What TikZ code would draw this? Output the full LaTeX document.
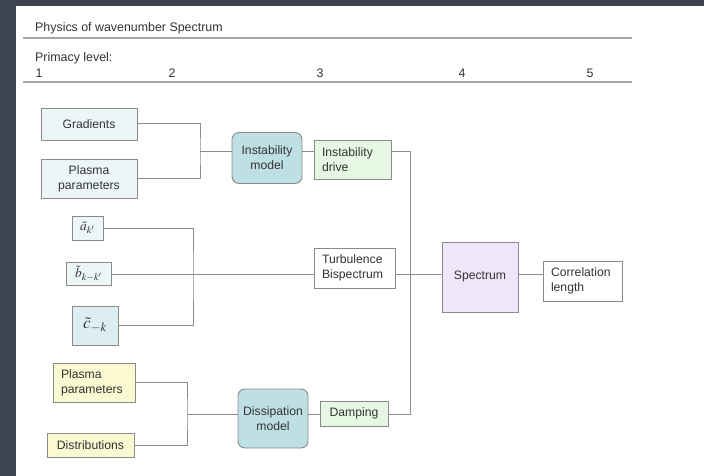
\documentclass[tikz,border=0pt]{standalone}
\usepackage{amsmath}
\usepackage{mathptmx}
\usepackage{fontspec}
\setmainfont{Liberation Sans}
\usetikzlibrary{positioning}

\definecolor{slate}{HTML}{3E4350}
\definecolor{txt}{HTML}{333333}
\definecolor{boxline}{HTML}{8A8A8A}
\definecolor{wireline}{HTML}{8C8C8C}
\definecolor{ruleline}{HTML}{A4A4A4}
\definecolor{cyanlite}{HTML}{EDF6F7}
\definecolor{cyanmid}{HTML}{DCEEF2}
\definecolor{modelfill}{HTML}{BEDFE4}
\definecolor{greenlite}{HTML}{E6F8E4}
\definecolor{lavender}{HTML}{F0E6FB}
\definecolor{yellowlite}{HTML}{FBF9D2}

\begin{document}
\begin{tikzpicture}[x=1pt,y=-1pt,
	head/.style={text=txt, inner sep=0pt, font=\fontsize{12.4}{14}\selectfont},
	box/.style={draw=boxline, line width=0.9pt, inner sep=0pt, text=txt, align=center, font=\fontsize{12.2}{15}\selectfont},
	lbox/.style={box, align=left, inner xsep=8pt},
	model/.style={box, rounded corners=7pt, fill=modelfill},
	wire/.style={draw=wireline, line width=1pt},
	rule/.style={draw=ruleline, line width=1.8pt}]
	\fill[slate] (0,0) rectangle (704,476);
	\fill[white] (16,6) rectangle (704,476);
	% header
	\node[head, anchor=west] (title) at (35,28) {Physics of wavenumber Spectrum};
	\draw[rule] (23,38) -- (632,38);
	\node[head, anchor=west] (prim) at (35,58) {Primacy level:};
	\foreach \x/\n in {39/1,172/2,320/3,462/4,590/5}
		\node[head] (lv\n) at (\x,73) {\n};
	\draw[rule] (23,82) -- (632,82);
	% level 1
	\node[box, fill=cyanlite, minimum width=96, minimum height=32] (grad) at (89,124) {Gradients};
	\node[box, fill=cyanlite, minimum width=96, minimum height=39] (plasA) at (89,178.5) {Plasma\\parameters};
	\node[box, fill=cyanlite, minimum width=31, minimum height=24, font=\fontsize{13.5}{15}\selectfont] (abox) at (87.5,228) {$\tilde{a}_{k'}$};
	\node[box, fill=cyanlite, minimum width=45, minimum height=23, font=\fontsize{13.5}{15}\selectfont] (bbox) at (88.5,273.5) {$\tilde{b}_{k-k'}$};
	\node[box, fill=cyanmid, minimum width=46, minimum height=39, font=\fontsize{17}{19}\selectfont] (cbox) at (95,325.5) {$\tilde{c}_{-k}$};
	\node[lbox, fill=yellowlite, text width=66, minimum height=39] (plasB) at (94,382.5) {Plasma\\parameters};
	\node[box, fill=yellowlite, minimum width=87, minimum height=24] (distr) at (90.5,445) {Distributions};
	% level 2 and 3
	\node[model, minimum width=70, minimum height=51] (instm) at (267,158) {Instability\\model};
	\node[lbox, fill=greenlite, text width=61, minimum height=39] (drive) at (352.5,159.5) {Instability\\drive};
	\node[lbox, fill=white, text width=65, minimum height=40] (turb) at (354.5,268) {Turbulence\\Bispectrum};
	\node[model, minimum width=70, minimum height=59] (dism) at (273,418.5) {Dissipation\\model};
	\node[box, fill=greenlite, minimum width=68, minimum height=25] (damp) at (354,413.5) {Damping};
	% level 4 and 5
	\node[box, fill=lavender, minimum width=76, minimum height=70] (spec) at (480,277) {Spectrum};
	\node[lbox, fill=white, text width=63, minimum height=40] (corr) at (582.5,281) {Correlation\\length};
	% connectors
	\coordinate (j1) at (200,152);
	\coordinate (j2) at (193,274);
	\coordinate (j3) at (187,414);
	\coordinate (t1) at (410,152);
	\coordinate (t2) at (410,414);
	\draw[wire] (grad.east) -| (j1) |- (plasA.east);
	\draw[wire] (j1) -- (j1 -| instm.west);
	\draw[wire] (instm.east |- j1) -- (drive.west |- j1);
	\draw[wire] (drive.east |- t1) -- (t1) -- (t2) -- (damp.east |- t2);
	\draw[wire] (abox.east) -| (j2) |- (cbox.east);
	\draw[wire] (bbox.east |- j2) -- (turb.west |- j2);
	\draw[wire] (turb.east |- j2) -- (spec.west |- j2);
	\draw[wire] (spec.east |- j2) -- (corr.west |- j2);
	\draw[wire] (plasB.east) -| (j3) |- (distr.east);
	\draw[wire] (j3) -- (dism.west |- j3);
	\draw[wire] (dism.east |- j3) -- (damp.west |- j3);
\end{tikzpicture}
\end{document}
